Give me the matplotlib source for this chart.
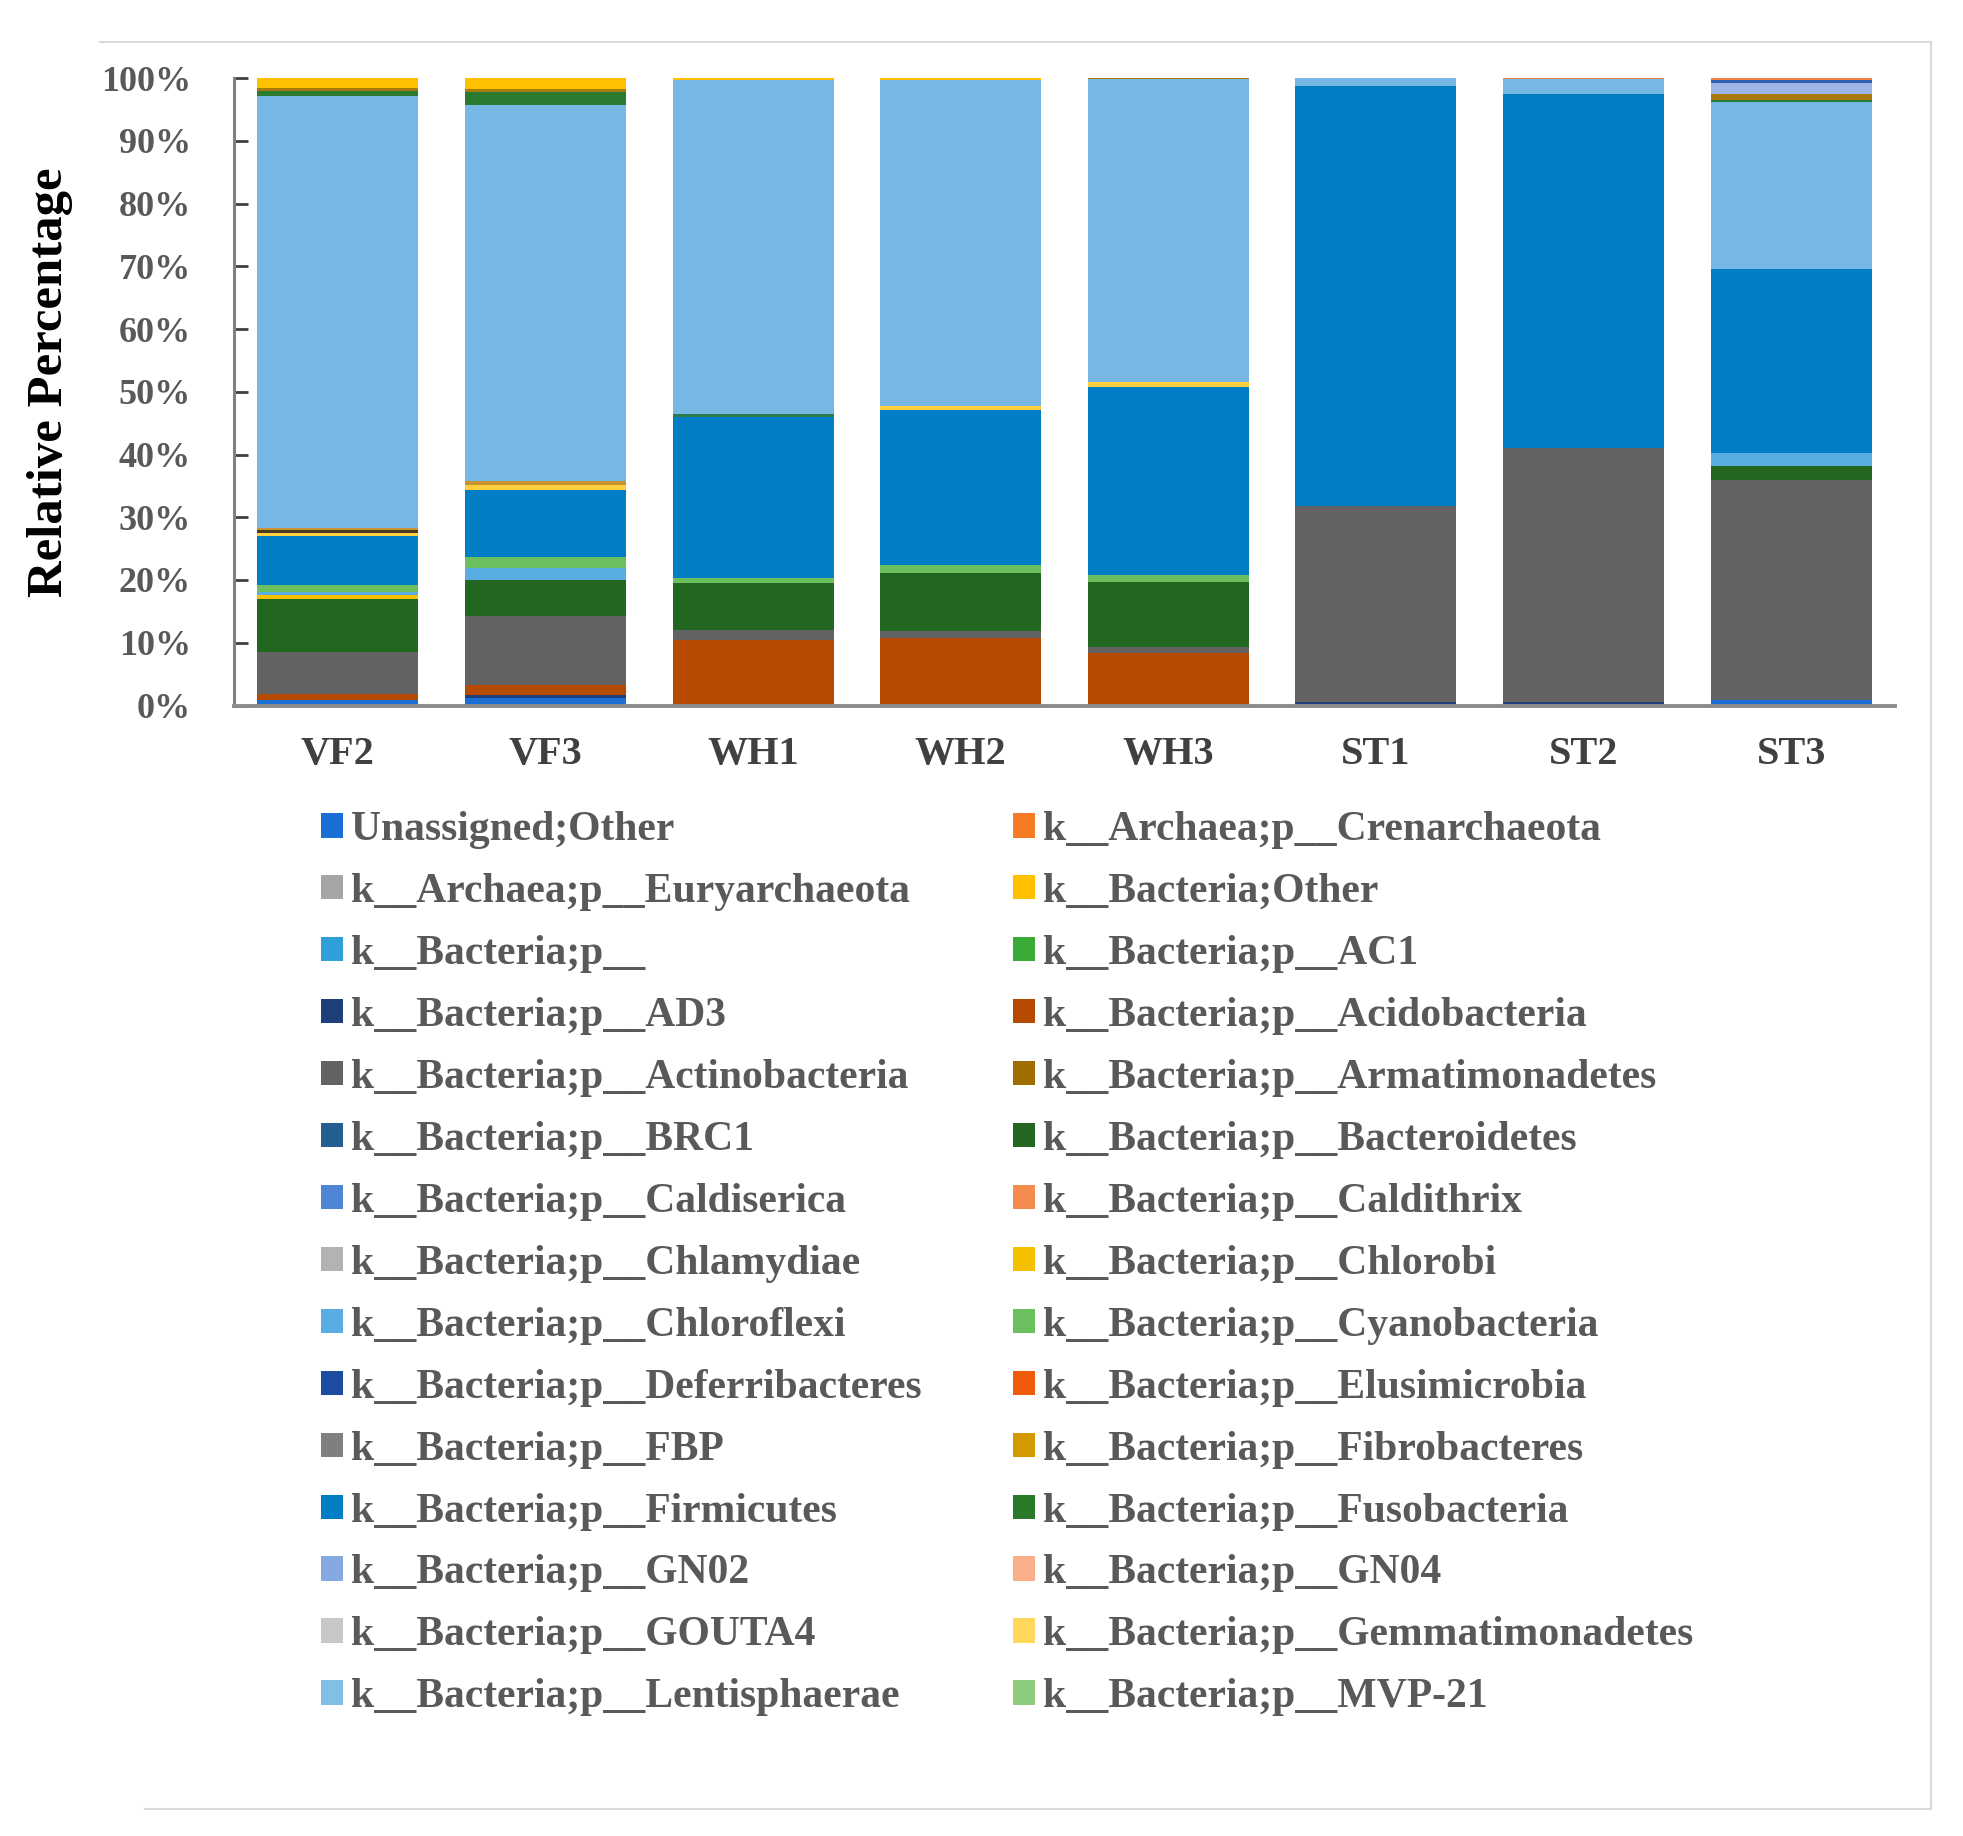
import matplotlib
matplotlib.use("Agg")
import numpy as np
import matplotlib.pyplot as plt
from matplotlib.patches import Patch
from matplotlib.lines import Line2D

plt.rcParams['font.family'] = ['Liberation Serif', 'DejaVu Serif']
plt.rcParams['font.weight'] = 'bold'

samples = ["VF2", "VF3", "WH1", "WH2", "WH3", "ST1", "ST2", "ST3"]

# relative abundance (%), stacked bottom -> top
unassigned       = [0.9, 1.2, 0.0, 0.0, 0.0, 0.0, 0.0, 0.9]
ad3              = [0.0, 0.4, 0.0, 0.0, 0.0, 0.6, 0.6, 0.0]
acidobacteria    = [0.9, 1.7, 10.5, 10.7, 8.3, 0.0, 0.0, 0.0]
actinobacteria   = [6.8, 11.0, 1.6, 1.2, 1.0, 31.2, 40.4, 35.1]
bacteroidetes    = [8.4, 5.7, 7.5, 9.2, 10.4, 0.0, 0.0, 2.2]
chlorobi         = [0.6, 0.0, 0.0, 0.0, 0.0, 0.0, 0.0, 0.0]
chloroflexi      = [0.5, 1.9, 0.0, 0.0, 0.0, 0.0, 0.0, 2.0]
cyanobacteria    = [1.1, 1.8, 0.7, 1.3, 1.1, 0.0, 0.0, 0.0]
firmicutes       = [7.8, 10.7, 25.7, 24.7, 30.0, 67.0, 56.5, 29.4]
fusobacteria     = [0.0, 0.0, 0.4, 0.0, 0.0, 0.0, 0.0, 0.0]
gemmatimonadetes = [0.5, 0.8, 0.0, 0.7, 0.7, 0.0, 0.0, 0.0]
nkb19            = [0.4, 0.0, 0.0, 0.0, 0.0, 0.0, 0.0, 0.0]
planctomycetes   = [0.4, 0.5, 0.0, 0.0, 0.0, 0.0, 0.0, 0.0]
proteobacteria   = [68.8, 60.0, 53.3, 51.9, 48.4, 1.2, 2.3, 26.5]
spirochaetes     = [0.8, 2.0, 0.0, 0.0, 0.0, 0.0, 0.0, 0.4]
tm7              = [0.5, 0.6, 0.0, 0.0, 0.1, 0.0, 0.0, 1.0]
tenericutes      = [0.0, 0.0, 0.0, 0.0, 0.0, 0.0, 0.0, 1.7]
thermotogae      = [0.0, 0.0, 0.0, 0.0, 0.0, 0.0, 0.0, 0.5]
verrucomicrobia  = [0.0, 0.0, 0.0, 0.0, 0.0, 0.0, 0.2, 0.3]
wps2             = [1.6, 1.7, 0.3, 0.3, 0.0, 0.0, 0.0, 0.0]

stack = [
    (unassigned, '#1A6FD6'),
    (ad3, '#1F3F7A'),
    (acidobacteria, '#B54A00'),
    (actinobacteria, '#636363'),
    (bacteroidetes, '#23661F'),
    (chlorobi, '#F5C000'),
    (chloroflexi, '#5AADE2'),
    (cyanobacteria, '#6BBF5F'),
    (firmicutes, '#007DC5'),
    (fusobacteria, '#2A7A4A'),
    (gemmatimonadetes, '#FFCF40'),
    (nkb19, '#4B3B1E'),
    (planctomycetes, '#C89430'),
    (proteobacteria, '#76B7E3'),
    (spirochaetes, '#2A7A2F'),
    (tm7, '#A87A10'),
    (tenericutes, '#9DB4E6'),
    (thermotogae, '#2F5FAF'),
    (verrucomicrobia, '#F08344'),
    (wps2, '#FFC000'),
]

legend_names = [
    "Unassigned;Other", "k__Archaea;p__Crenarchaeota",
    "k__Archaea;p__Euryarchaeota", "k__Bacteria;Other",
    "k__Bacteria;p__", "k__Bacteria;p__AC1",
    "k__Bacteria;p__AD3", "k__Bacteria;p__Acidobacteria",
    "k__Bacteria;p__Actinobacteria", "k__Bacteria;p__Armatimonadetes",
    "k__Bacteria;p__BRC1", "k__Bacteria;p__Bacteroidetes",
    "k__Bacteria;p__Caldiserica", "k__Bacteria;p__Caldithrix",
    "k__Bacteria;p__Chlamydiae", "k__Bacteria;p__Chlorobi",
    "k__Bacteria;p__Chloroflexi", "k__Bacteria;p__Cyanobacteria",
    "k__Bacteria;p__Deferribacteres", "k__Bacteria;p__Elusimicrobia",
    "k__Bacteria;p__FBP", "k__Bacteria;p__Fibrobacteres",
    "k__Bacteria;p__Firmicutes", "k__Bacteria;p__Fusobacteria",
    "k__Bacteria;p__GN02", "k__Bacteria;p__GN04",
    "k__Bacteria;p__GOUTA4", "k__Bacteria;p__Gemmatimonadetes",
    "k__Bacteria;p__Lentisphaerae", "k__Bacteria;p__MVP-21",
]
legend_colors = [
    '#1A6FD6', '#F47A24',
    '#A5A5A5', '#FFC000',
    '#2E9FD8', '#3CAA36',
    '#1F3F7A', '#B54A00',
    '#636363', '#9E6F00',
    '#255E91', '#23661F',
    '#4E86D5', '#F58B4C',
    '#B3B3B3', '#F5C000',
    '#5AADE2', '#6BBF5F',
    '#1C4DA0', '#EF5A0B',
    '#7F7F7F', '#D39A00',
    '#007DC5', '#2A7A2A',
    '#85A8E0', '#F8AF8A',
    '#C8C8C8', '#FFD75A',
    '#82BEE6', '#8DCB7D',
]

W, H = 1963, 1836
fig = plt.figure(figsize=(W / 100, H / 100), dpi=100)
ax = fig.add_axes([234 / W, 1 - 705.5 / H, (1895 - 234) / W, (705.5 - 78) / H])

x = np.arange(len(samples))
bottom = np.zeros(len(samples))
for vals, col in stack:
    vals = np.array(vals, dtype=float)
    ax.bar(x, vals, 0.775, bottom=bottom, color=col, linewidth=0)
    bottom += vals

ax.set_xlim(-0.5, len(samples) - 0.5)
ax.set_ylim(0, 100)
ax.set_yticks(np.arange(0, 101, 10))
ax.set_yticklabels([f"{v}%" for v in range(0, 101, 10)])
ax.set_xticks(x)
ax.set_xticklabels(samples)

for s in ['top', 'right']:
    ax.spines[s].set_visible(False)
ax.spines['left'].set_color('#808080')
ax.spines['left'].set_linewidth(2.2)
ax.spines['bottom'].set_color('#8C8C8C')
ax.spines['bottom'].set_linewidth(2.8)

ax.tick_params(axis='y', direction='in', length=10, width=2, color='#404040',
               pad=31, labelsize=26, labelcolor='#595959')
ax.tick_params(axis='x', length=0, pad=22, labelsize=29, labelcolor='#404040')

fig.text(50 / W, 1 - 382 / H, "Relative Percentage", rotation=90,
         ha='center', va='center', fontsize=36.5, fontweight='bold', color='black')

handles = [Patch(facecolor=c, edgecolor='none') for c in legend_colors]
for col, x0 in [(0, 321), (1, 1013)]:
    leg = fig.legend(handles[col::2], legend_names[col::2], loc='upper left',
                     bbox_to_anchor=(x0 / W, 1 - 811 / H), frameon=False,
                     fontsize=30, handlelength=0.53, handleheight=0.53,
                     handletextpad=0.2, labelspacing=0.575, borderpad=0,
                     borderaxespad=0)
    for t in leg.get_texts():
        t.set_color('#595959')

# light chart-area border
border = '#D9D9D9'
fig.add_artist(Line2D([100 / W, 1931 / W], [1 - 41.5 / H] * 2, transform=fig.transFigure, color=border, lw=1.5))
fig.add_artist(Line2D([1931 / W] * 2, [1 - 41.5 / H, 1 - 1809 / H], transform=fig.transFigure, color=border, lw=1.5))
fig.add_artist(Line2D([145 / W, 1931 / W], [1 - 1809 / H] * 2, transform=fig.transFigure, color=border, lw=1.5))

fig.savefig("out.png", dpi=100, facecolor='white')
